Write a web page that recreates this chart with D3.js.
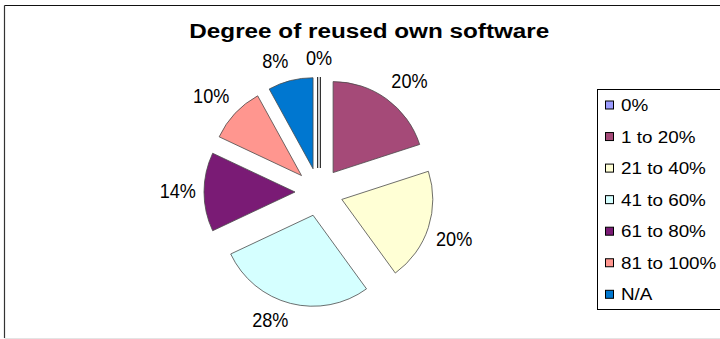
<!DOCTYPE html>
<html>
<head>
<meta charset="utf-8">
<script src="https://cdn.jsdelivr.net/npm/d3@7/dist/d3.min.js"></script>
<style>
  html, body { margin: 0; padding: 0; background: #fff; }
  svg { display: block; font-family: "Liberation Sans", Arial, Helvetica, sans-serif; }
</style>
</head>
<body>
<svg id="chart" width="720" height="339"></svg>
<script>
// Survey answers: share of reused own software
const categories = ["0%", "1 to 20%", "21 to 40%", "41 to 60%", "61 to 80%", "81 to 100%", "N/A"];
const shares = [0, 20, 20, 28, 14, 10, 8];
const sliceColors = ["#9C9CFF", "#A54A78", "#FFFFD5", "#D5FFFF", "#7A1B75", "#FF968F", "#0077D0"];
const chartTitle = "Degree of reused own software";

const svg = d3.select("#chart");
const W = 720, H = 339;

// Outer chart frame
svg.append("rect").attr("x", 0).attr("y", 0).attr("width", W).attr("height", H).attr("fill", "#fff");
svg.append("line").attr("x1", 4.5).attr("x2", W).attr("y1", 5.5).attr("y2", 5.5)
  .attr("stroke", "#111").attr("stroke-width", 1.2);
svg.append("line").attr("x1", 4.5).attr("x2", 4.5).attr("y1", 5.5).attr("y2", 338)
  .attr("stroke", "#333").attr("stroke-width", 1.2);
svg.append("line").attr("x1", 4.5).attr("x2", W).attr("y1", 338.5).attr("y2", 338.5)
  .attr("stroke", "#e4e4e4").attr("stroke-width", 1);

// Title
svg.append("text")
  .attr("x", 369.3).attr("y", 38)
  .attr("text-anchor", "middle")
  .attr("font-size", 19.5).attr("font-weight", "bold")
  .attr("textLength", 360).attr("lengthAdjust", "spacingAndGlyphs")
  .attr("fill", "#000")
  .text(chartTitle);

// Exploded pie
const cx = 319, cy = 192, radius = 91, explode = 24, labelGap = 8;
const pie = d3.pie().sort(null).value(d => d.value).startAngle(0).endAngle(2 * Math.PI);
const arc = d3.arc().innerRadius(0).outerRadius(radius);
const data = categories.map((c, i) => ({ name: c, value: shares[i], color: sliceColors[i] }));
const arcs = pie(data);

const g = svg.append("g").attr("transform", `translate(${cx},${cy})`);

const slices = g.selectAll("g.slice").data(arcs).join("g")
  .attr("class", "slice")
  .attr("transform", d => {
    const mid = (d.startAngle + d.endAngle) / 2;
    return `translate(${explode * Math.sin(mid)},${-explode * Math.cos(mid)})`;
  });

slices.each(function(d) {
  const s = d3.select(this);
  if (d.endAngle - d.startAngle > 1e-9) {
    s.append("path").attr("d", arc(d))
      .attr("fill", d.data.color)
      .attr("stroke", "#4a4a4a").attr("stroke-width", 0.8)
      .attr("stroke-linejoin", "round");
  } else {
    // zero share: only the edge line remains, drawn double
    s.append("path").attr("d", arc(d))
      .attr("fill", "none").attr("stroke", "#000").attr("stroke-width", 3.6)
      .attr("stroke-linejoin", "bevel");
    s.append("path").attr("d", arc(d))
      .attr("fill", "none").attr("stroke", "#fff").attr("stroke-width", 1.6)
      .attr("stroke-linejoin", "bevel");
  }
});

// Percentage labels placed just outside each slice
const labelSize = 19.5, labelScale = 0.93, boxH = 20;
const clamp = v => Math.max(-1, Math.min(1, v));
arcs.forEach(d => {
  const mid = (d.startAngle + d.endAngle) / 2;
  const dx = Math.sin(mid), dy = -Math.cos(mid);
  const R = explode + radius + labelGap;
  const px = cx + R * dx, py = cy + R * dy;
  const t = svg.append("text")
    .attr("font-size", labelSize).attr("fill", "#000")
    .attr("text-anchor", "middle")
    .text(d.data.value + "%");
  const w = t.node().getComputedTextLength() * labelScale;
  const bx = px + clamp(dx * 5) * w / 2;
  const by = py + clamp(dy * 5) * boxH / 2;
  t.attr("transform", `translate(${bx},${by + boxH / 2 - 4.5}) scale(${labelScale},1)`);
});

// Legend
const legX = 597.5, legY = 89.5, legH = 220, rowStep = 31.55, firstRow = 105;
svg.append("rect").attr("x", legX).attr("y", legY).attr("width", 140).attr("height", legH)
  .attr("fill", "#fff").attr("stroke", "#000").attr("stroke-width", 1);
const rows = svg.selectAll("g.leg").data(data).join("g").attr("class", "leg")
  .attr("transform", (d, i) => `translate(0,${firstRow + i * rowStep})`);
rows.append("rect").attr("x", 605.5).attr("y", -4).attr("width", 8).attr("height", 8)
  .attr("fill", d => d.color).attr("stroke", "#000").attr("stroke-width", 1);
rows.append("text")
  .attr("transform", "translate(621,6) scale(1.13,1)")
  .attr("font-size", 16.7).attr("fill", "#000")
  .text(d => d.name);
</script>
</body>
</html>
